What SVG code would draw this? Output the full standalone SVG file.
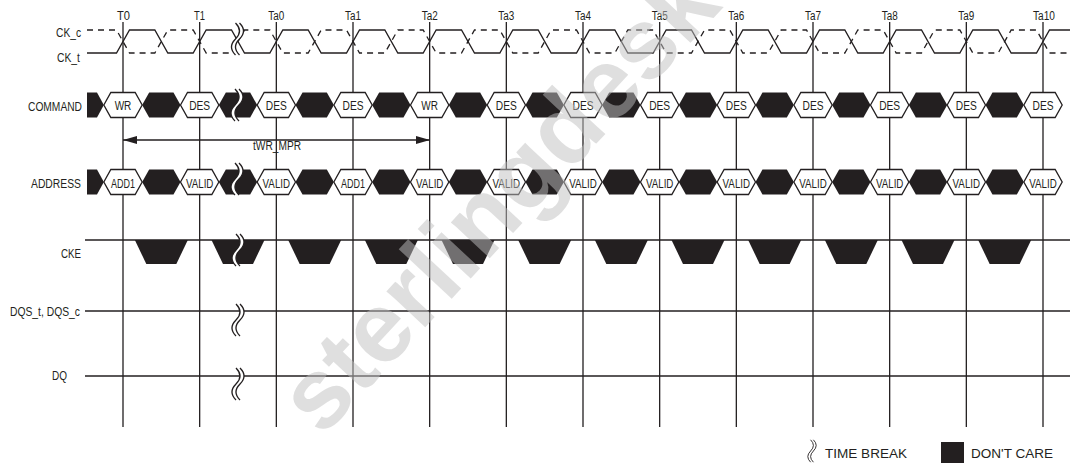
<svg xmlns="http://www.w3.org/2000/svg" xmlns:xlink="http://www.w3.org/1999/xlink" width="1070" height="465" viewBox="0 0 1070 465">
<style>
.ln{stroke:#231f20;stroke-width:1.3;fill:none}
.dash{stroke-dasharray:6 5}
.bk{fill:#231f20;stroke:none}
.wh{fill:#fff;stroke:#231f20;stroke-width:1.3}
text{font-family:"Liberation Sans",Arial,sans-serif;fill:#231f20;font-size:12.5px}
.mid{text-anchor:middle}
.end{text-anchor:end}
.wm{font-family:"Liberation Sans",Arial,sans-serif;font-weight:bold;font-size:100px;fill:#c0c0c0;fill-opacity:0.5}
</style>
<defs>
<polygon id="hw" class="wh" points="-19.17,0 -12.17,-12.5 12.17,-12.5 19.17,0 12.17,12.5 -12.17,12.5"/>
<polygon id="hb" class="bk" points="-19.17,0 -12.17,-12.5 12.17,-12.5 19.17,0 12.17,12.5 -12.17,12.5"/>
<polygon id="tz" class="bk" points="-26.5,0 26.5,0 15,24 -15,24"/>
<g id="brk">
<path fill="#fff" stroke="none" d="M-2,-16 Q6,-8 -2,0 Q-10,8 -2,16 L2,16 Q-6,8 2,0 Q10,-8 2,-16 Z"/>
<path class="ln" stroke-width="1" d="M-2,-16 Q6,-8 -2,0 Q-10,8 -2,16 M2,-16 Q10,-8 2,0 Q-6,8 2,16"/>
</g>
<marker id="ah" viewBox="0 0 14 8" refX="14" refY="4" markerWidth="14" markerHeight="8" markerUnits="userSpaceOnUse" orient="auto-start-reverse">
<path d="M0,0 L14,4 L0,8 Z" fill="#231f20"/>
</marker>
</defs>
<rect width="1070" height="465" fill="#fff"/>

<g id="time-lines" class="ln">
<path d="M123,22V427 M199.67,22V427 M276.33,22V427 M353,22V427 M429.67,22V427 M506.33,22V427 M583,22V427 M659.67,22V427 M736.33,22V427 M813,22V427 M889.67,22V427 M966.33,22V427 M1043,22V427"/>
</g>
<g id="time-labels">
<text class="mid" x="123.5" y="20" textLength="13" lengthAdjust="spacingAndGlyphs">T0</text>
<text class="mid" x="199.5" y="20" textLength="11" lengthAdjust="spacingAndGlyphs">T1</text>
<text class="mid" x="276.3" y="20" textLength="16" lengthAdjust="spacingAndGlyphs">Ta0</text>
<text class="mid" x="353" y="20" textLength="16" lengthAdjust="spacingAndGlyphs">Ta1</text>
<text class="mid" x="429.7" y="20" textLength="16" lengthAdjust="spacingAndGlyphs">Ta2</text>
<text class="mid" x="506.3" y="20" textLength="16" lengthAdjust="spacingAndGlyphs">Ta3</text>
<text class="mid" x="583" y="20" textLength="16" lengthAdjust="spacingAndGlyphs">Ta4</text>
<text class="mid" x="659.7" y="20" textLength="16" lengthAdjust="spacingAndGlyphs">Ta5</text>
<text class="mid" x="736.3" y="20" textLength="16" lengthAdjust="spacingAndGlyphs">Ta6</text>
<text class="mid" x="813" y="20" textLength="16" lengthAdjust="spacingAndGlyphs">Ta7</text>
<text class="mid" x="889.7" y="20" textLength="16" lengthAdjust="spacingAndGlyphs">Ta8</text>
<text class="mid" x="966.3" y="20" textLength="16" lengthAdjust="spacingAndGlyphs">Ta9</text>
<text class="mid" x="1044" y="20" textLength="22" lengthAdjust="spacingAndGlyphs">Ta10</text>
</g>

<g id="row-labels">
<text class="end" x="81" y="36.5" textLength="25" lengthAdjust="spacingAndGlyphs">CK_c</text>
<text class="end" x="80" y="61.5" textLength="23" lengthAdjust="spacingAndGlyphs">CK_t</text>
<text class="end" x="82" y="110.5" textLength="54" lengthAdjust="spacingAndGlyphs">COMMAND</text>
<text class="end" x="81" y="188" textLength="50" lengthAdjust="spacingAndGlyphs">ADDRESS</text>
<text class="end" x="81" y="258" textLength="20" lengthAdjust="spacingAndGlyphs">CKE</text>
<text class="end" x="80" y="316" textLength="70" lengthAdjust="spacingAndGlyphs">DQS_t, DQS_c</text>
<text class="end" x="67" y="380" textLength="15" lengthAdjust="spacingAndGlyphs">DQ</text>
</g>

<g id="sig-clock">
<path class="ln" d="M87,53 L116.5,53 L129.5,30 L154.83,30 L167.83,53 L193.17,53 L206.17,30 L231.5,30 L244.5,53 L269.83,53 L282.83,30 L308.17,30 L321.17,53 L346.5,53 L359.5,30 L384.83,30 L397.83,53 L423.17,53 L436.17,30 L461.5,30 L474.5,53 L499.83,53 L512.83,30 L538.17,30 L551.17,53 L576.5,53 L589.5,30 L614.83,30 L627.83,53 L653.17,53 L666.17,30 L691.5,30 L704.5,53 L729.83,53 L742.83,30 L768.17,30 L781.17,53 L806.5,53 L819.5,30 L844.83,30 L857.83,53 L883.17,53 L896.17,30 L921.5,30 L934.5,53 L959.83,53 L972.83,30 L998.17,30 L1011.17,53 L1036.5,53 L1049.5,30 L1070,30"/>
<path class="ln dash" d="M87,30 L116.5,30 L129.5,53 L154.83,53 L167.83,30 L193.17,30 L206.17,53 L231.5,53 L244.5,30 L269.83,30 L282.83,53 L308.17,53 L321.17,30 L346.5,30 L359.5,53 L384.83,53 L397.83,30 L423.17,30 L436.17,53 L461.5,53 L474.5,30 L499.83,30 L512.83,53 L538.17,53 L551.17,30 L576.5,30 L589.5,53 L614.83,53 L627.83,30 L653.17,30 L666.17,53 L691.5,53 L704.5,30 L729.83,30 L742.83,53 L768.17,53 L781.17,30 L806.5,30 L819.5,53 L844.83,53 L857.83,30 L883.17,30 L896.17,53 L921.5,53 L934.5,30 L959.83,30 L972.83,53 L998.17,53 L1011.17,30 L1036.5,30 L1049.5,53 L1070,53"/>
<use href="#brk" x="237.5" y="39"/>
</g>

<g id="sig-command">
<polygon class="bk" points="87,92.5 97,92.5 103.83,105 97,117.5 87,117.5"/>
<use href="#hb" x="161.33" y="105"/><use href="#hb" x="238" y="105"/><use href="#hb" x="314.67" y="105"/><use href="#hb" x="391.33" y="105"/><use href="#hb" x="468" y="105"/><use href="#hb" x="544.67" y="105"/><use href="#hb" x="621.33" y="105"/><use href="#hb" x="698" y="105"/><use href="#hb" x="774.67" y="105"/><use href="#hb" x="851.33" y="105"/><use href="#hb" x="928" y="105"/><use href="#hb" x="1004.67" y="105"/>
<use href="#hw" x="123" y="105"/><use href="#hw" x="199.67" y="105"/><use href="#hw" x="276.33" y="105"/><use href="#hw" x="353" y="105"/><use href="#hw" x="429.67" y="105"/><use href="#hw" x="506.33" y="105"/><use href="#hw" x="583" y="105"/><use href="#hw" x="659.67" y="105"/><use href="#hw" x="736.33" y="105"/><use href="#hw" x="813" y="105"/><use href="#hw" x="889.67" y="105"/><use href="#hw" x="966.33" y="105"/><use href="#hw" x="1043" y="105"/>
<text class="mid" x="123" y="110" textLength="16.7" lengthAdjust="spacingAndGlyphs">WR</text>
<text class="mid" x="199.67" y="110" textLength="21" lengthAdjust="spacingAndGlyphs">DES</text>
<text class="mid" x="276.33" y="110" textLength="21" lengthAdjust="spacingAndGlyphs">DES</text>
<text class="mid" x="353" y="110" textLength="21" lengthAdjust="spacingAndGlyphs">DES</text>
<text class="mid" x="429.67" y="110" textLength="16.7" lengthAdjust="spacingAndGlyphs">WR</text>
<text class="mid" x="506.33" y="110" textLength="21" lengthAdjust="spacingAndGlyphs">DES</text>
<text class="mid" x="583" y="110" textLength="21" lengthAdjust="spacingAndGlyphs">DES</text>
<text class="mid" x="659.67" y="110" textLength="21" lengthAdjust="spacingAndGlyphs">DES</text>
<text class="mid" x="736.33" y="110" textLength="21" lengthAdjust="spacingAndGlyphs">DES</text>
<text class="mid" x="813" y="110" textLength="21" lengthAdjust="spacingAndGlyphs">DES</text>
<text class="mid" x="889.67" y="110" textLength="21" lengthAdjust="spacingAndGlyphs">DES</text>
<text class="mid" x="966.33" y="110" textLength="21" lengthAdjust="spacingAndGlyphs">DES</text>
<text class="mid" x="1043" y="110" textLength="21" lengthAdjust="spacingAndGlyphs">DES</text>
<use href="#brk" x="237" y="105"/>
</g>

<g id="sig-address">
<polygon class="bk" points="87,169.5 97,169.5 103.83,182 97,194.5 87,194.5"/>
<use href="#hb" x="161.33" y="182"/><use href="#hb" x="238" y="182"/><use href="#hb" x="314.67" y="182"/><use href="#hb" x="391.33" y="182"/><use href="#hb" x="468" y="182"/><use href="#hb" x="544.67" y="182"/><use href="#hb" x="621.33" y="182"/><use href="#hb" x="698" y="182"/><use href="#hb" x="774.67" y="182"/><use href="#hb" x="851.33" y="182"/><use href="#hb" x="928" y="182"/><use href="#hb" x="1004.67" y="182"/>
<use href="#hw" x="123" y="182"/><use href="#hw" x="199.67" y="182"/><use href="#hw" x="276.33" y="182"/><use href="#hw" x="353" y="182"/><use href="#hw" x="429.67" y="182"/><use href="#hw" x="506.33" y="182"/><use href="#hw" x="583" y="182"/><use href="#hw" x="659.67" y="182"/><use href="#hw" x="736.33" y="182"/><use href="#hw" x="813" y="182"/><use href="#hw" x="889.67" y="182"/><use href="#hw" x="966.33" y="182"/><use href="#hw" x="1043" y="182"/>
<text class="mid" x="123" y="187.5" textLength="24" lengthAdjust="spacingAndGlyphs">ADD1</text>
<text class="mid" x="199.67" y="187.5" textLength="27.5" lengthAdjust="spacingAndGlyphs">VALID</text>
<text class="mid" x="276.33" y="187.5" textLength="27.5" lengthAdjust="spacingAndGlyphs">VALID</text>
<text class="mid" x="353" y="187.5" textLength="24" lengthAdjust="spacingAndGlyphs">ADD1</text>
<text class="mid" x="429.67" y="187.5" textLength="27.5" lengthAdjust="spacingAndGlyphs">VALID</text>
<text class="mid" x="506.33" y="187.5" textLength="27.5" lengthAdjust="spacingAndGlyphs">VALID</text>
<text class="mid" x="583" y="187.5" textLength="27.5" lengthAdjust="spacingAndGlyphs">VALID</text>
<text class="mid" x="659.67" y="187.5" textLength="27.5" lengthAdjust="spacingAndGlyphs">VALID</text>
<text class="mid" x="736.33" y="187.5" textLength="27.5" lengthAdjust="spacingAndGlyphs">VALID</text>
<text class="mid" x="813" y="187.5" textLength="27.5" lengthAdjust="spacingAndGlyphs">VALID</text>
<text class="mid" x="889.67" y="187.5" textLength="27.5" lengthAdjust="spacingAndGlyphs">VALID</text>
<text class="mid" x="966.33" y="187.5" textLength="27.5" lengthAdjust="spacingAndGlyphs">VALID</text>
<text class="mid" x="1043" y="187.5" textLength="27.5" lengthAdjust="spacingAndGlyphs">VALID</text>
<use href="#brk" x="237" y="179"/>
</g>

<g id="sig-cke">
<path class="ln" d="M85,240H1070"/>
<use href="#tz" x="161.33" y="240"/><use href="#tz" x="238" y="240"/><use href="#tz" x="314.67" y="240"/><use href="#tz" x="391.33" y="240"/><use href="#tz" x="468" y="240"/><use href="#tz" x="544.67" y="240"/><use href="#tz" x="621.33" y="240"/><use href="#tz" x="698" y="240"/><use href="#tz" x="774.67" y="240"/><use href="#tz" x="851.33" y="240"/><use href="#tz" x="928" y="240"/><use href="#tz" x="1004.67" y="240"/>
<use href="#brk" x="238" y="250"/>
</g>

<g id="sig-dqs">
<path class="ln" d="M85,311H1070"/>
<use href="#brk" x="238" y="320"/>
</g>

<g id="sig-dq">
<path class="ln" d="M85,376H1070"/>
<use href="#brk" x="238" y="384"/>
</g>

<g id="connectors">
<path class="ln" d="M123,140H430" marker-start="url(#ah)" marker-end="url(#ah)"/>
<text class="mid" x="277" y="150" textLength="48" lengthAdjust="spacingAndGlyphs">tWR_MPR</text>
</g>

<g id="legend">
<use href="#brk" transform="translate(812,451) scale(0.7)"/>
<text x="825" y="458" textLength="82" lengthAdjust="spacingAndGlyphs">TIME BREAK</text>
<rect class="bk" x="941" y="442" width="23" height="21"/>
<text x="971" y="458" textLength="82" lengthAdjust="spacingAndGlyphs">DON'T CARE</text>
</g>

<text class="wm" x="322" y="438" transform="rotate(-47 322 438)">sterlingdesk</text>
</svg>
